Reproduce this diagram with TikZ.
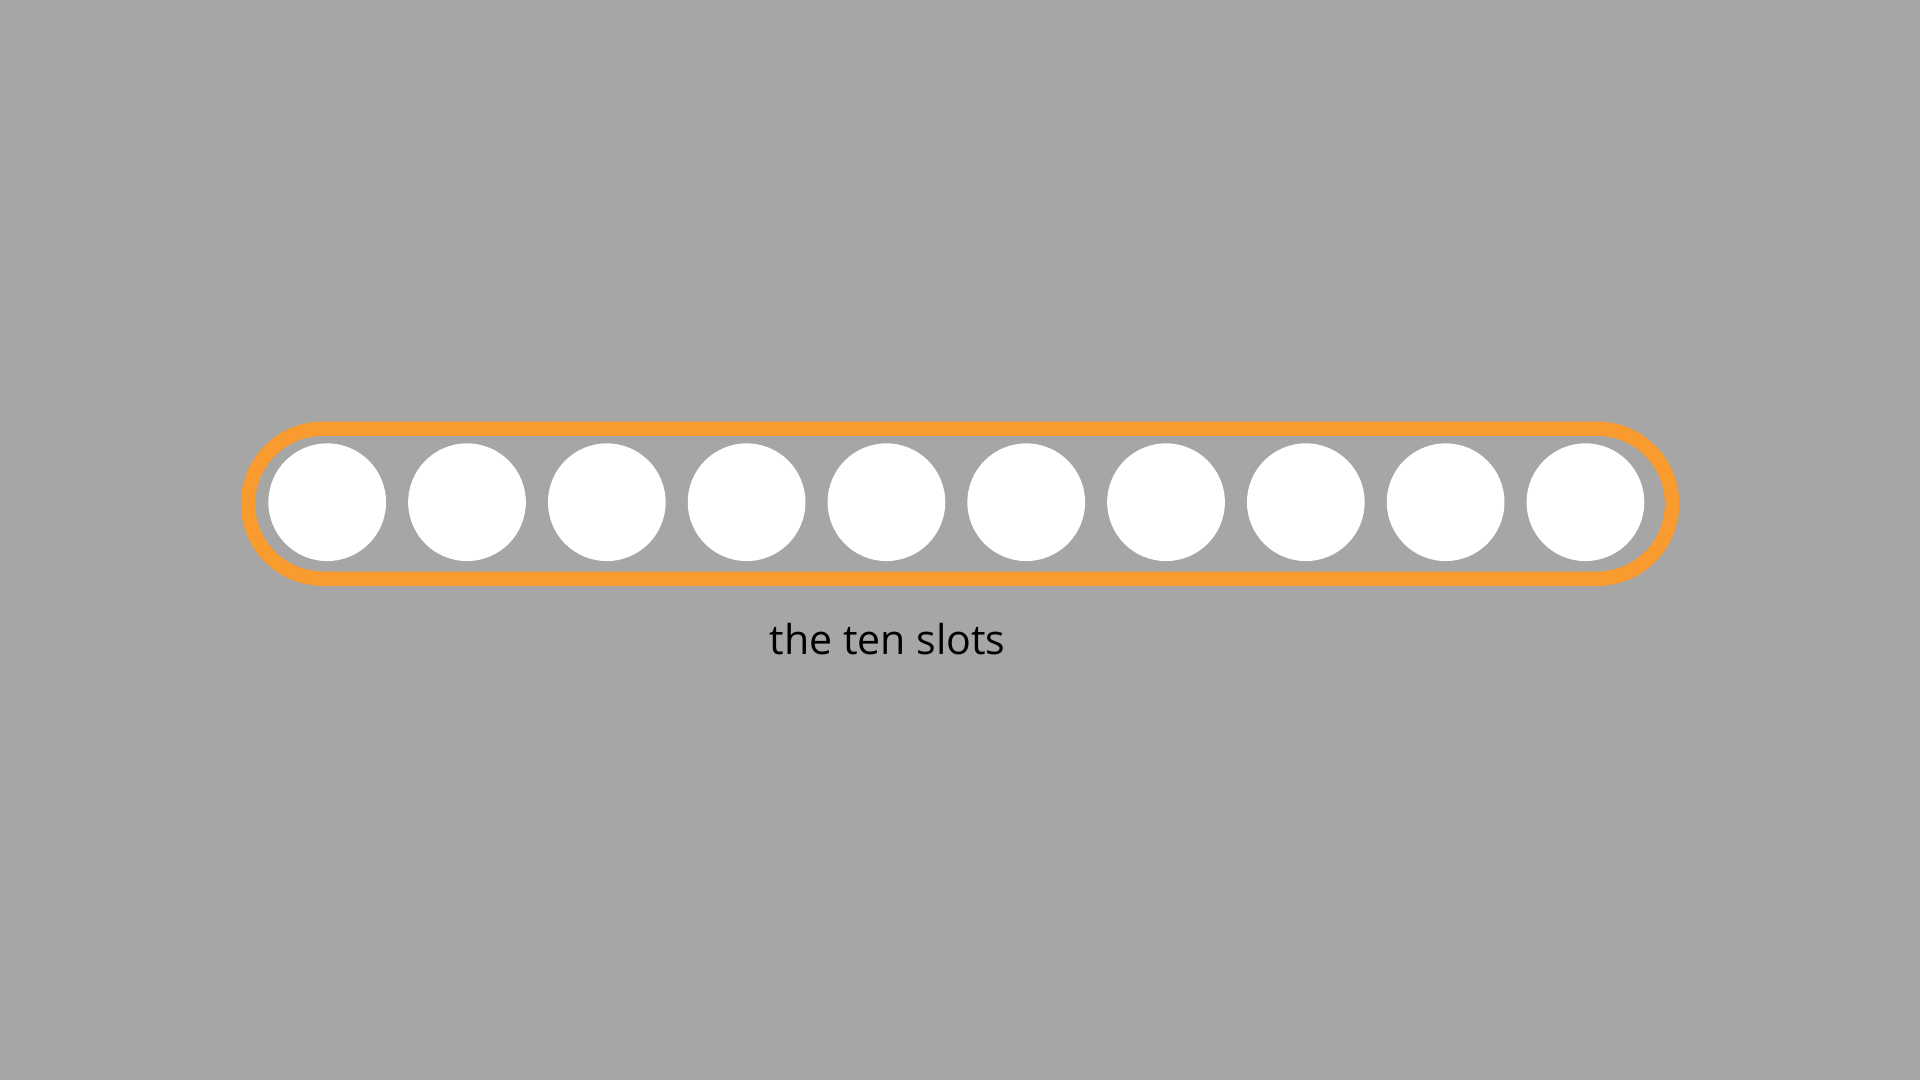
\documentclass[tikz,border=0pt]{standalone}
\usepackage{fontspec}
\setmainfont{Open Sans}
\usepackage{tikz}
\definecolor{slotgray}{RGB}{166,166,166}
\definecolor{slotorange}{RGB}{249,155,46}

\begin{document}
\begin{tikzpicture}[scale=0.1]
\tikzstyle{every node}+=[inner sep=0pt]
\tikzstyle{slot}=[circle, fill=white, minimum size=11.77mm]
\fill [slotgray] (0,0) rectangle (192,-108);
\useasboundingbox (0,0) rectangle (192,-108);
\draw [slotorange, line width=4.1pt, rounded corners=7.5mm] (24.8,-42.87) rectangle (167.2,-57.87);
\node [slot] (s1) at (32.72,-50.22) {};
\node [slot] (s2) at (46.70,-50.22) {};
\node [slot] (s3) at (60.68,-50.22) {};
\node [slot] (s4) at (74.66,-50.22) {};
\node [slot] (s5) at (88.64,-50.22) {};
\node [slot] (s6) at (102.62,-50.22) {};
\node [slot] (s7) at (116.60,-50.22) {};
\node [slot] (s8) at (130.58,-50.22) {};
\node [slot] (s9) at (144.56,-50.22) {};
\node [slot] (s10) at (158.54,-50.22) {};
\node [anchor=base, font=\fontsize{11.7pt}{14pt}\selectfont] (caption) at (88.75,-65.45) {the ten slots};
\end{tikzpicture}
\end{document}
